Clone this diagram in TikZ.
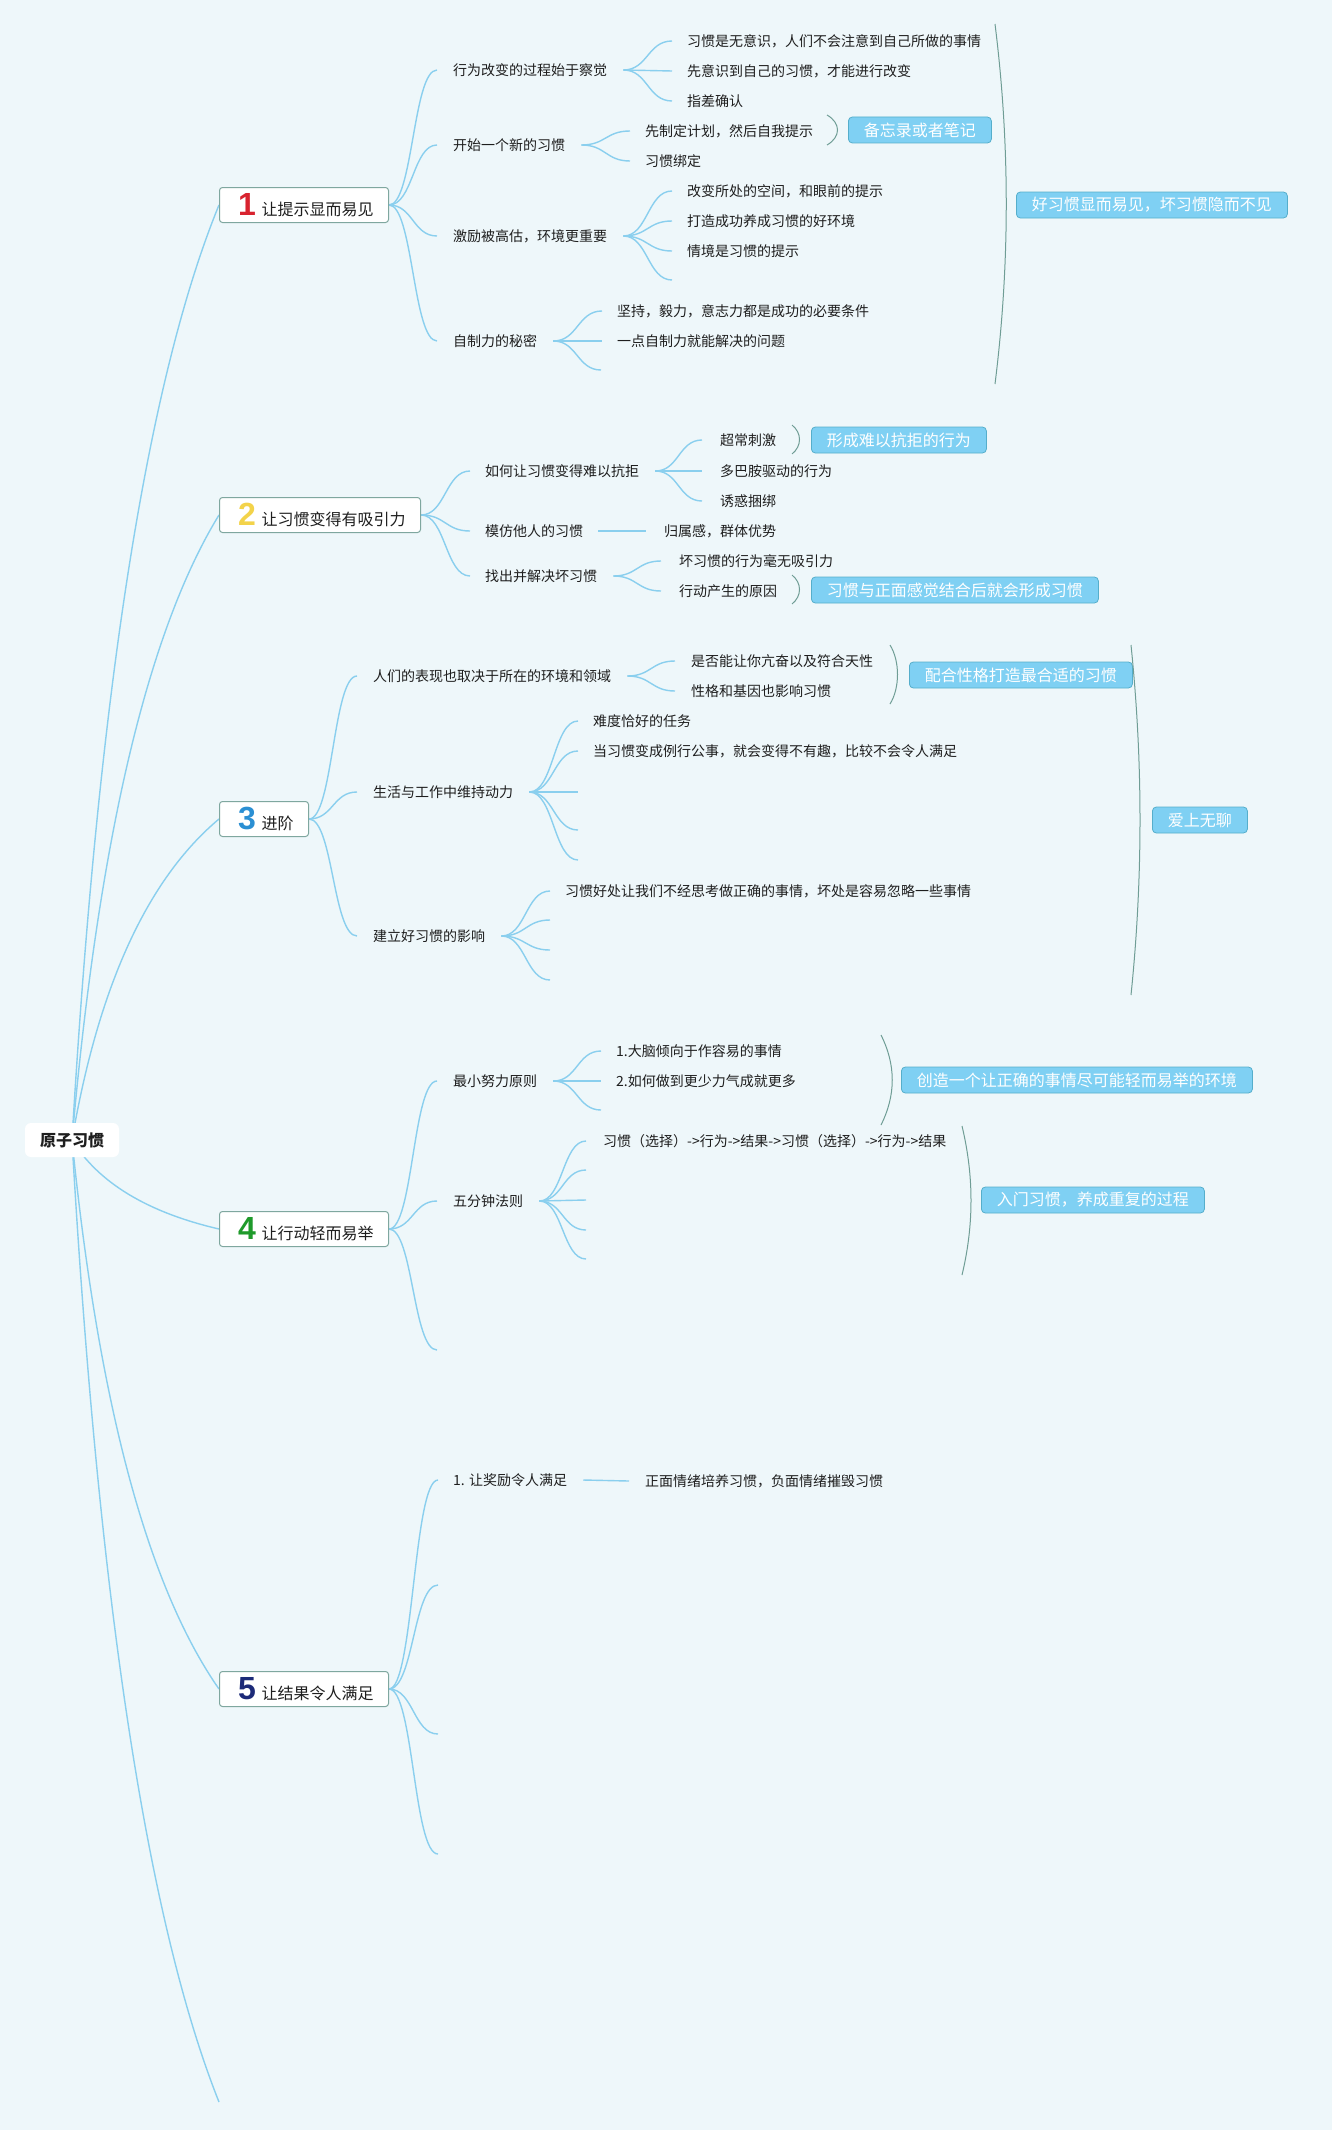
\documentclass[tikz,border=0pt]{standalone}
\usepackage{fontspec}
\setmainfont{Noto Sans CJK SC}
\newfontfamily\digitfont{Liberation Sans}
\usetikzlibrary{calc}
\pgfdeclarelayer{back}
\pgfdeclarelayer{bg}
\pgfsetlayers{back,bg,main}
\definecolor{bgc}{HTML}{EEF7FA}
\definecolor{linec}{HTML}{8ACFEE}
\definecolor{bracec}{HTML}{6F9D95}
\definecolor{topicdraw}{HTML}{7FA79F}
\definecolor{sumfill}{HTML}{7FD0F3}
\definecolor{sumdraw}{HTML}{55AECB}
\definecolor{txt}{HTML}{1E1E1E}
\definecolor{dA}{HTML}{D8232F}
\definecolor{dB}{HTML}{F3D34A}
\definecolor{dC}{HTML}{2B8FD3}
\definecolor{dD}{HTML}{1F9A2B}
\definecolor{dE}{HTML}{1C2A78}
\newcommand\numicon[2]{\makebox[42pt][l]{\hspace*{27.5pt}\makebox[0pt]{\color{#1}\digitfont\bfseries\fontsize{32}{32}\selectfont #2}}}
\newcommand\scurve[2]{\draw[conn] let \p1=(#1), \p2=(#2) in (\p1) .. controls ({(\x1+\x2)/2},\y1) and ({(\x1+\x2)/2},\y2) .. (\p2);}
\newcommand\rcurve[2]{\draw[conn] let \p1=(#1), \p2=(#2) in (\p1) .. controls ({\x1+0.18*(\x2-\x1)},{\y1+0.48*(\y2-\y1)}) and ({\x2-0.487*(\x2-\x1)},{\y2-0.187*(\y2-\y1)}) .. (\p2);}
\tikzset{
  every node/.style={font=\fontsize{14}{16}\selectfont, text=txt},
  leaf/.style={anchor=west, inner sep=0pt},
  conn/.style={draw=linec, line width=1.4pt},
  sumline/.style={draw=bracec, line width=1pt},
  sumbox/.style={anchor=west, fill=sumfill, draw=sumdraw, line width=0.8pt, rounded corners=4pt, text=white, font=\fontsize{16}{18}\selectfont, inner xsep=15.5pt, inner ysep=0pt, minimum height=26pt},
  topic/.style={anchor=west, fill=white, draw=topicdraw, line width=1pt, rounded corners=3pt, inner sep=0pt, minimum height=35pt, text width=#1, align=left, font=\fontsize{16}{18}\selectfont},
  rootbox/.style={fill=white, rounded corners=6pt, minimum width=94pt, minimum height=34pt, inner sep=0pt, font=\fontsize{16}{18}\selectfont\bfseries},
}
\begin{document}
\begin{tikzpicture}[x=1pt,y=-1pt]
\begin{pgfonlayer}{back}
\fill[bgc] (0,0) rectangle (1332,2130);
\end{pgfonlayer}
\useasboundingbox (0,0) rectangle (1332,2130);

% root and main topics
\node[rootbox] (root) at (72,1140) {原子习惯};
\node[topic=169pt] (n1) at (219,205) {\numicon{dA}{1}让提示显而易见};
\node[topic=201pt] (n2) at (219,515) {\numicon{dB}{2}让习惯变得有吸引力};
\node[topic=89pt] (n3) at (219,819) {\numicon{dC}{3}进阶};
\node[topic=169pt] (n4) at (219,1229) {\numicon{dD}{4}让行动轻而易举};
\node[topic=169pt] (n5) at (219,1689) {\numicon{dE}{5}让结果令人满足};
\coordinate (n6) at (219,2102);

% ---------- section 1
\node[leaf] (a1) at (453,70) {行为改变的过程始于察觉};
\node[leaf] (a2) at (453,145) {开始一个新的习惯};
\node[leaf] (a3) at (453,236) {激励被高估，环境更重要};
\node[leaf] (a4) at (453,341) {自制力的秘密};
\node[leaf] (a11) at (687,41) {习惯是无意识，人们不会注意到自己所做的事情};
\node[leaf] (a12) at (687,71) {先意识到自己的习惯，才能进行改变};
\node[leaf] (a13) at (687,101) {指差确认};
\node[leaf] (a21) at (645,131) {先制定计划，然后自我提示};
\node[leaf] (a22) at (645,161) {习惯绑定};
\node[leaf] (a31) at (687,191) {改变所处的空间，和眼前的提示};
\node[leaf] (a32) at (687,221) {打造成功养成习惯的好环境};
\node[leaf] (a33) at (687,251) {情境是习惯的提示};
\coordinate (a34) at (672,280);
\node[leaf] (a41) at (617,311) {坚持，毅力，意志力都是成功的必要条件};
\node[leaf] (a42) at (617,341) {一点自制力就能解决的问题};
\coordinate (a43) at (601,370);
\coordinate (br1t) at (827,115); \coordinate (br1b) at (827,145);
\draw[sumline] (br1t) .. controls +(14,8) and +(14,-8) .. (br1b);
\node[sumbox] (s1) at (848,130) {备忘录或者笔记};
\coordinate (br2t) at (995,24); \coordinate (br2b) at (995,384);
\draw[sumline] (br2t) .. controls +(15,120) and +(15,-120) .. (br2b);
\node[sumbox] (s2) at (1016,205) {好习惯显而易见，坏习惯隐而不见};

% ---------- section 2
\node[leaf] (b1) at (485,471) {如何让习惯变得难以抗拒};
\node[leaf] (b2) at (485,531) {模仿他人的习惯};
\node[leaf] (b3) at (485,576) {找出并解决坏习惯};
\node[leaf] (b11) at (720,440) {超常刺激};
\node[leaf] (b12) at (720,471) {多巴胺驱动的行为};
\node[leaf] (b13) at (720,501) {诱惑捆绑};
\node[leaf] (b21) at (664,531) {归属感，群体优势};
\node[leaf] (b31) at (679,561) {坏习惯的行为毫无吸引力};
\node[leaf] (b32) at (679,591) {行动产生的原因};
\coordinate (br3t) at (792,425); \coordinate (br3b) at (792,454);
\draw[sumline] (br3t) .. controls +(10,8) and +(10,-8) .. (br3b);
\node[sumbox] (s3) at (811,440) {形成难以抗拒的行为};
\coordinate (br4t) at (792,575); \coordinate (br4b) at (792,604);
\draw[sumline] (br4t) .. controls +(10,8) and +(10,-8) .. (br4b);
\node[sumbox] (s4) at (811,590) {习惯与正面感觉结合后就会形成习惯};

% ---------- section 3
\node[leaf] (c1) at (373,676) {人们的表现也取决于所在的环境和领域};
\node[leaf] (c2) at (373,792) {生活与工作中维持动力};
\node[leaf] (c3) at (373,936) {建立好习惯的影响};
\node[leaf] (c11) at (691,661) {是否能让你亢奋以及符合天性};
\node[leaf] (c12) at (691,691) {性格和基因也影响习惯};
\node[leaf] (c21) at (593,721) {难度恰好的任务};
\node[leaf] (c22) at (593,751) {当习惯变成例行公事，就会变得不有趣，比较不会令人满足};
\coordinate (c23) at (578,792);
\coordinate (c24) at (578,830);
\coordinate (c25) at (578,860);
\node[leaf] (c31) at (565,891) {习惯好处让我们不经思考做正确的事情，坏处是容易忽略一些事情};
\coordinate (c32) at (550,920);
\coordinate (c33) at (550,950);
\coordinate (c34) at (550,980);
\coordinate (br5t) at (890,645); \coordinate (br5b) at (890,704);
\draw[sumline] (br5t) .. controls +(10,16) and +(10,-16) .. (br5b);
\node[sumbox] (s5) at (909,675) {配合性格打造最合适的习惯};
\coordinate (br6t) at (1131,645); \coordinate (br6b) at (1131,995);
\draw[sumline] (br6t) .. controls +(12,117) and +(12,-117) .. (br6b);
\node[sumbox] (s6) at (1152,820) {爱上无聊};

% ---------- section 4
\node[leaf] (d1) at (453,1081) {最小努力原则};
\node[leaf] (d2) at (453,1201) {五分钟法则};
\coordinate (d3) at (437,1350);
\node[leaf] (d11) at (616,1051) {1.大脑倾向于作容易的事情};
\node[leaf] (d12) at (616,1081) {2.如何做到更少力气成就更多};
\coordinate (d13) at (601,1110);
\node[leaf] (d21) at (603,1141) {习惯（选择）->行为->结果->习惯（选择）->行为->结果};
\coordinate (d22) at (586,1170);
\coordinate (d23) at (586,1200);
\coordinate (d24) at (586,1230);
\coordinate (d25) at (586,1259);
\coordinate (br7t) at (881,1035); \coordinate (br7b) at (881,1125);
\draw[sumline] (br7t) .. controls +(15,30) and +(15,-30) .. (br7b);
\node[sumbox] (s7) at (901,1080) {创造一个让正确的事情尽可能轻而易举的环境};
\coordinate (br8t) at (962,1126); \coordinate (br8b) at (962,1275);
\draw[sumline] (br8t) .. controls +(12,50) and +(12,-50) .. (br8b);
\node[sumbox] (s8) at (981,1200) {入门习惯，养成重复的过程};

% ---------- section 5
\node[leaf] (e1) at (453,1480) {1. 让奖励令人满足};
\node[leaf] (e11) at (645,1481) {正面情绪培养习惯，负面情绪摧毁习惯};
\coordinate (e2) at (438,1585);
\coordinate (e3) at (438,1734);
\coordinate (e4) at (438,1854);

% ---------- connectors
\begin{pgfonlayer}{bg}
\rcurve{root.center}{n1.west}
\rcurve{root.center}{n2.west}
\rcurve{root.center}{n3.west}
\rcurve{root.center}{n4.west}
\rcurve{root.center}{n5.west}
\rcurve{root.center}{n6}
% section 1
\scurve{n1.east}{$(a1.west)+(-16,0)$}
\scurve{n1.east}{$(a2.west)+(-16,0)$}
\scurve{n1.east}{$(a3.west)+(-16,0)$}
\scurve{n1.east}{$(a4.west)+(-16,0)$}
\scurve{$(a1.east)+(16,0)$}{$(a11.west)+(-15,0)$}
\scurve{$(a1.east)+(16,0)$}{$(a12.west)+(-15,0)$}
\scurve{$(a1.east)+(16,0)$}{$(a13.west)+(-15,0)$}
\scurve{$(a2.east)+(16,0)$}{$(a21.west)+(-15,0)$}
\scurve{$(a2.east)+(16,0)$}{$(a22.west)+(-15,0)$}
\scurve{$(a3.east)+(16,0)$}{$(a31.west)+(-15,0)$}
\scurve{$(a3.east)+(16,0)$}{$(a32.west)+(-15,0)$}
\scurve{$(a3.east)+(16,0)$}{$(a33.west)+(-15,0)$}
\scurve{$(a3.east)+(16,0)$}{a34}
\scurve{$(a4.east)+(16,0)$}{$(a41.west)+(-15,0)$}
\scurve{$(a4.east)+(16,0)$}{$(a42.west)+(-15,0)$}
\scurve{$(a4.east)+(16,0)$}{a43}
% section 2
\scurve{n2.east}{$(b1.west)+(-15,0)$}
\scurve{n2.east}{$(b2.west)+(-15,0)$}
\scurve{n2.east}{$(b3.west)+(-15,0)$}
\scurve{$(b1.east)+(16,0)$}{$(b11.west)+(-18,0)$}
\scurve{$(b1.east)+(16,0)$}{$(b12.west)+(-18,0)$}
\scurve{$(b1.east)+(16,0)$}{$(b13.west)+(-18,0)$}
\draw[conn] ($(b2.east)+(15,0)$) -- ($(b21.west)+(-18,0)$);
\scurve{$(b3.east)+(16,0)$}{$(b31.west)+(-18,0)$}
\scurve{$(b3.east)+(16,0)$}{$(b32.west)+(-18,0)$}
% section 3
\scurve{n3.east}{$(c1.west)+(-16,0)$}
\scurve{n3.east}{$(c2.west)+(-16,0)$}
\scurve{n3.east}{$(c3.west)+(-16,0)$}
\scurve{$(c1.east)+(16,0)$}{$(c11.west)+(-16,0)$}
\scurve{$(c1.east)+(16,0)$}{$(c12.west)+(-16,0)$}
\scurve{$(c2.east)+(16,0)$}{$(c21.west)+(-15,0)$}
\scurve{$(c2.east)+(16,0)$}{$(c22.west)+(-15,0)$}
\scurve{$(c2.east)+(16,0)$}{c23}
\scurve{$(c2.east)+(16,0)$}{c24}
\scurve{$(c2.east)+(16,0)$}{c25}
\scurve{$(c3.east)+(16,0)$}{$(c31.west)+(-15,0)$}
\scurve{$(c3.east)+(16,0)$}{c32}
\scurve{$(c3.east)+(16,0)$}{c33}
\scurve{$(c3.east)+(16,0)$}{c34}
% section 4
\scurve{n4.east}{$(d1.west)+(-16,0)$}
\scurve{n4.east}{$(d2.west)+(-16,0)$}
\scurve{n4.east}{d3}
\scurve{$(d1.east)+(16,0)$}{$(d11.west)+(-15,0)$}
\scurve{$(d1.east)+(16,0)$}{$(d12.west)+(-15,0)$}
\scurve{$(d1.east)+(16,0)$}{d13}
\scurve{$(d2.east)+(16,0)$}{$(d21.west)+(-17,0)$}
\scurve{$(d2.east)+(16,0)$}{d22}
\scurve{$(d2.east)+(16,0)$}{d23}
\scurve{$(d2.east)+(16,0)$}{d24}
\scurve{$(d2.east)+(16,0)$}{d25}
% section 5
\scurve{n5.east}{$(e1.west)+(-15,0)$}
\scurve{n5.east}{e2}
\scurve{n5.east}{e3}
\scurve{n5.east}{e4}
\draw[conn] ($(e1.east)+(16,0)$) -- ($(e11.west)+(-16,0)$);
\end{pgfonlayer}
\end{tikzpicture}
\end{document}
